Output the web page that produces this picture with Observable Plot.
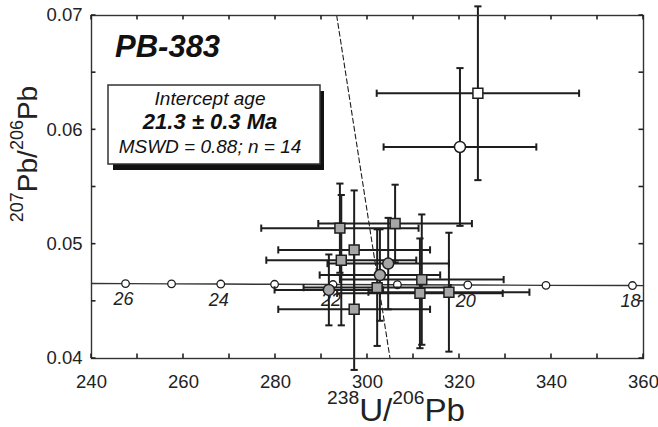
<!DOCTYPE html>
<html><head><meta charset="utf-8">
<script src="https://cdn.jsdelivr.net/npm/d3@7"></script>
<script src="https://cdn.jsdelivr.net/npm/@observablehq/plot@0.6"></script>
<style>
body{margin:0;background:#fff;}
#wrap{position:relative;width:658px;height:427px;}
</style></head><body><div id="wrap"></div>
<script>
// --- Data ---
const ptX  = [294.0, 306.0, 297.1, 294.3, 304.5, 302.7, 311.8, 302.1, 291.6, 311.4, 317.7, 297.1, 324.0, 320.1];
const ptY  = [0.0514, 0.0518, 0.0495, 0.0486, 0.0483, 0.0473, 0.0469, 0.0462, 0.0460, 0.0457, 0.0458, 0.0443, 0.0632, 0.0585];
const ptSX = [17.1, 16.7, 16.5, 16.3, 13.2, 13.1, 17.8, 16.0, 11.8, 18.0, 17.5, 16.5, 22.0, 16.6];
const ptSY = [0.0039, 0.0034, 0.0052, 0.0057, 0.0040, 0.0040, 0.0057, 0.0051, 0.0031, 0.0048, 0.0052, 0.0053, 0.0076, 0.0069];
const ptShape = ["square","square","square","square","circle","circle","square","square","circle","square","square","square","square","circle"];
const ptGroup = ["in","in","in","in","in","in","in","in","in","in","in","in","out","out"];

const concAge = [26, 25, 24, 23, 22, 21, 20, 19, 18];
const concX   = [247.4, 257.4, 268.1, 279.8, 292.5, 306.5, 321.8, 338.8, 357.6];
const concY   = [0.04655, 0.04653, 0.04651, 0.04649, 0.04647, 0.04645, 0.04643, 0.04640, 0.04638];
const concLineX = [240, 247.4, 257.4, 268.1, 279.8, 292.5, 306.5, 321.8, 338.8, 357.6, 360];
const concLineY = [0.04656, 0.04655, 0.04653, 0.04651, 0.04649, 0.04647, 0.04645, 0.04643, 0.04640, 0.04638, 0.04637];
const ageLabels = [26, 24, 22, 20, 18];

const discX = [293.3, 304.9];
const discY = [0.07, 0.04];

const xTicks = [240, 250, 260, 270, 280, 290, 300, 310, 320, 330, 340, 350, 360];
const xTickLabels = [240, 260, 280, 300, 320, 340, 360];
const yTicks = [0.04, 0.045, 0.05, 0.055, 0.06, 0.065, 0.07];
const yTickLabels = [0.04, 0.05, 0.06, 0.07];

const sampleName = "PB-383";
const boxLines = ["Intercept age", "21.3 ± 0.3 Ma", "MSWD = 0.88; n = 14"];

// --- Build tables ---
const pts = ptX.map((x, i) => ({x, y: ptY[i], sx: ptSX[i], sy: ptSY[i], shape: ptShape[i], group: ptGroup[i]}));
const conc = concX.map((x, i) => ({x, y: concY[i], age: concAge[i]}));
const concLine = concLineX.map((x, i) => ({x, y: concLineY[i]}));
const ageLab = conc.filter(d => ageLabels.includes(d.age));
const disc = discX.map((x, i) => ({x, y: discY[i]}));

const capV = {draw(ctx) { ctx.moveTo(0, -3.6); ctx.lineTo(0, 3.6); }};
const capH = {draw(ctx) { ctx.moveTo(-3.6, 0); ctx.lineTo(3.6, 0); }};
const INK = "#1e1e1e";
const fillOf = d => d.group === "in" ? "#a6a6a6" : "#ffffff";

const font = '"Liberation Sans", Arial, Helvetica, sans-serif';

const W = 658, H = 427, ML = 91, MR = 15, MT = 15, MB = 69;
const T = 4.5; // inward tick length (px)

const chart = Plot.plot({
  width: W, height: H,
  marginLeft: ML, marginRight: MR, marginTop: MT, marginBottom: MB,
  style: {fontFamily: font, fontSize: "18.5px", color: "#222", background: "#fff", overflow: "visible"},
  x: {domain: [240, 360]},
  y: {domain: [0.04, 0.07]},
  marks: [
    // tick labels
    Plot.axisX(xTickLabels, {anchor: "bottom", tickSize: 0, tickPadding: 16, label: null, fontSize: 18.5}),
    Plot.axisY(yTickLabels, {anchor: "left", tickSize: 0, tickPadding: 9, tickFormat: d => d.toFixed(2), label: null, fontSize: 18.5}),
    Plot.line(concLine, {x: "x", y: "y", stroke: "#333", strokeWidth: 1.4}),
    Plot.dot(conc, {x: "x", y: "y", r: 3.8, fill: "#fff", stroke: INK, strokeWidth: 1.3}),
    Plot.text(ageLab, {x: "x", y: "y", text: d => String(d.age), dy: 16, dx: -2, fontStyle: "italic", fontSize: 18, fill: "#222"}),
    Plot.line(disc, {x: "x", y: "y", stroke: INK, strokeWidth: 1.1, strokeDasharray: "5,3"}),
    // error bars
    Plot.link(pts, {x1: d => d.x - d.sx, x2: d => d.x + d.sx, y1: "y", y2: "y", stroke: INK, strokeWidth: 2}),
    Plot.link(pts, {x1: "x", x2: "x", y1: d => d.y - d.sy, y2: d => d.y + d.sy, stroke: INK, strokeWidth: 2}),
    Plot.dot(pts, {x: d => d.x - d.sx, y: "y", symbol: capV, fill: "none", stroke: INK, strokeWidth: 2}),
    Plot.dot(pts, {x: d => d.x + d.sx, y: "y", symbol: capV, fill: "none", stroke: INK, strokeWidth: 2}),
    Plot.dot(pts, {x: "x", y: d => d.y - d.sy, symbol: capH, fill: "none", stroke: INK, strokeWidth: 2}),
    Plot.dot(pts, {x: "x", y: d => d.y + d.sy, symbol: capH, fill: "none", stroke: INK, strokeWidth: 2}),
    // markers
    Plot.dot(pts.filter(d => d.shape === "square"), {x: "x", y: "y", symbol: "square", r: 5.6, fill: fillOf, stroke: INK, strokeWidth: 1.5}),
    Plot.dot(pts.filter(d => d.shape === "circle"), {x: "x", y: "y", symbol: "circle", r: 5.5, fill: fillOf, stroke: INK, strokeWidth: 1.5}),
    Plot.frame({stroke: "#333", strokeWidth: 1.4})
  ]
});
document.getElementById("wrap").appendChild(chart);

const svg = d3.select(chart);
// Sample name
svg.append("text").attr("x", 115).attr("y", 57).attr("text-anchor", "start")
  .attr("font-family", font).attr("font-size", 31).attr("font-weight", "bold").attr("font-style", "italic")
  .attr("fill", "#111").text(sampleName);
// Legend box with shadow
svg.append("rect").attr("x", 113).attr("y", 91).attr("width", 211).attr("height", 79).attr("fill", "#111");
svg.append("rect").attr("x", 108).attr("y", 85).attr("width", 212).attr("height", 79)
  .attr("fill", "#fff").attr("stroke", "#333").attr("stroke-width", 1.5);
const boxStyles = [
  {y: 105, size: 19, weight: "normal"},
  {y: 129, size: 22, weight: "bold"},
  {y: 152.5, size: 19, weight: "normal"}
];
boxLines.forEach((t, i) => {
  svg.append("text").attr("x", 210).attr("y", boxStyles[i].y).attr("text-anchor", "middle")
    .attr("font-family", font).attr("font-size", boxStyles[i].size).attr("font-weight", boxStyles[i].weight)
    .attr("font-style", "italic").attr("fill", "#111").text(t);
});
// Axis titles with superscripts
function label(g, parts, big, small, shift) {
  const t = g.append("text").attr("text-anchor", "middle").attr("font-family", font).attr("fill", "#222");
  let up = false;
  parts.forEach(([s, sup]) => {
    const ts = t.append("tspan").attr("font-size", sup ? small : big);
    if (sup && !up) { ts.attr("dy", -shift); up = true; }
    else if (!sup && up) { ts.attr("dy", shift); up = false; }
    ts.text(s);
  });
}
const xl = svg.append("g").attr("transform", "translate(396,421) scale(1.07,1)");
label(xl, [["238", true], ["U/", false], ["206", true], ["Pb", false]], 31, 18, 17);
const yl = svg.append("g").attr("transform", "translate(37,154) rotate(-90)");
label(yl, [["207", true], ["Pb/", false], ["206", true], ["Pb", false]], 28, 18, 14);

// Inward ticks on all four sides, positioned through Plot's own scales
let fx, fy;
try {
  const sx = chart.scale("x"), sy = chart.scale("y");
  fx = v => sx.apply(v); fy = v => sy.apply(v);
} catch (e) {
  const lx = d3.scaleLinear([240, 360], [ML, W - MR]);
  const ly = d3.scaleLinear([0.04, 0.07], [H - MB, MT]);
  fx = lx; fy = ly;
}
const x0 = ML, x1 = W - MR, y0 = MT, y1 = H - MB;
const g = svg.append("g").attr("stroke", "#222").attr("stroke-width", 1.6).attr("fill", "none");
xTicks.forEach(v => {
  const px = fx(v);
  g.append("line").attr("x1", px).attr("x2", px).attr("y1", y1).attr("y2", y1 - T);
  g.append("line").attr("x1", px).attr("x2", px).attr("y1", y0).attr("y2", y0 + T);
});
yTicks.forEach(v => {
  const py = fy(v);
  g.append("line").attr("y1", py).attr("y2", py).attr("x1", x0).attr("x2", x0 + T);
  g.append("line").attr("y1", py).attr("y2", py).attr("x1", x1).attr("x2", x1 - T);
});
</script></body></html>
